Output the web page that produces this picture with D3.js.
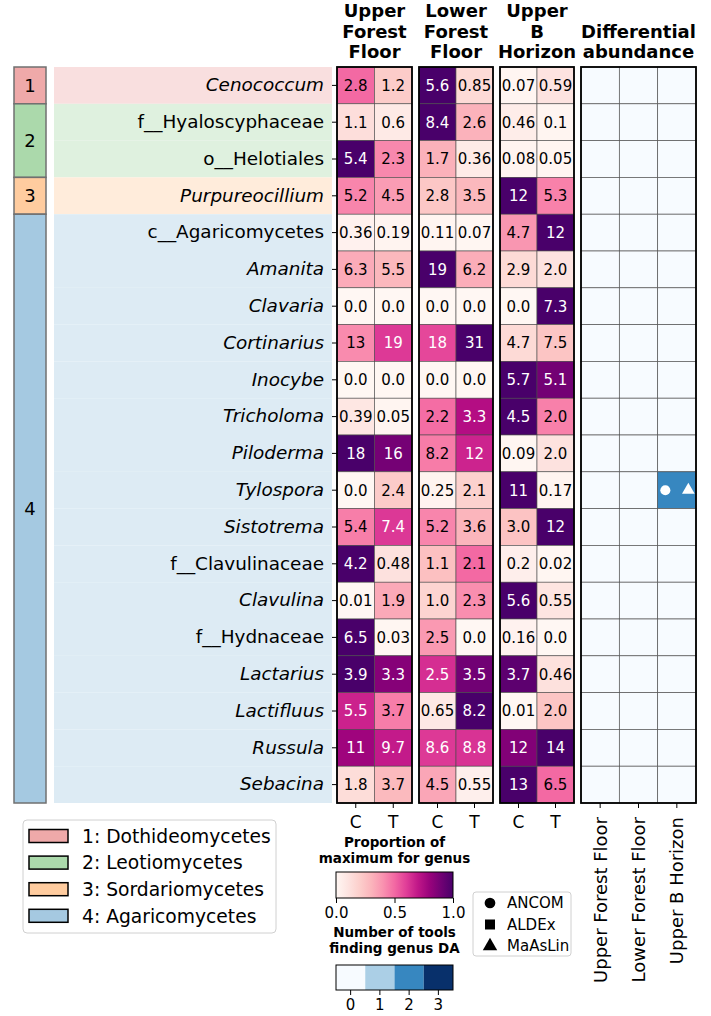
<!DOCTYPE html>
<html>
<head>
<meta charset="utf-8">
<script src="https://cdn.jsdelivr.net/npm/d3@7"></script>
<style>
  body { margin: 0; background: #fff; }
  text { font-family: "DejaVu Sans", sans-serif; }
</style>
</head>
<body>
<svg id="chart"></svg>
<script>
// ---- data ----
const genera = ["Cenococcum", "f__Hyaloscyphaceae", "o__Helotiales", "Purpureocillium",
  "c__Agaricomycetes", "Amanita", "Clavaria", "Cortinarius", "Inocybe", "Tricholoma",
  "Piloderma", "Tylospora", "Sistotrema", "f__Clavulinaceae", "Clavulina", "f__Hydnaceae",
  "Lactarius", "Lactifluus", "Russula", "Sebacina"];
const rowClass = [1, 2, 2, 3, 4, 4, 4, 4, 4, 4, 4, 4, 4, 4, 4, 4, 4, 4, 4, 4];
const classNames = ["Dothideomycetes", "Leotiomycetes", "Sordariomycetes", "Agaricomycetes"];
const treatments = ["C", "T"];
const sites = ["Upper Forest Floor", "Lower Forest Floor", "Upper B Horizon"];
const siteTitles = [["Upper", "Forest", "Floor"], ["Lower", "Forest", "Floor"], ["Upper", "B", "Horizon"]];

const uffC = [2.8, 1.1, 5.4, 5.2, 0.36, 6.3, 0, 13, 0, 0.39, 18, 0, 5.4, 4.2, 0.01, 6.5, 3.9, 5.5, 11, 1.8];
const uffT = [1.2, 0.6, 2.3, 4.5, 0.19, 5.5, 0, 19, 0, 0.05, 16, 2.4, 7.4, 0.48, 1.9, 0.03, 3.3, 3.7, 9.7, 3.7];
const lffC = [5.6, 8.4, 1.7, 2.8, 0.11, 19, 0, 18, 0, 2.2, 8.2, 0.25, 5.2, 1.1, 1.0, 2.5, 2.5, 0.65, 8.6, 4.5];
const lffT = [0.85, 2.6, 0.36, 3.5, 0.07, 6.2, 0, 31, 0, 3.3, 12, 2.1, 3.6, 2.1, 2.3, 0, 3.5, 8.2, 8.8, 0.55];
const ubhC = [0.07, 0.46, 0.08, 12, 4.7, 2.9, 0, 4.7, 5.7, 4.5, 0.09, 11, 3.0, 0.2, 5.6, 0.16, 3.7, 0.01, 12, 13];
const ubhT = [0.59, 0.1, 0.05, 5.3, 12, 2.0, 7.3, 7.5, 5.1, 2.0, 2.0, 0.17, 12, 0.02, 0.55, 0, 0.46, 2.0, 14, 6.5];

// number of tools finding genus DA, per site
const daUFF = [0, 0, 0, 0, 0, 0, 0, 0, 0, 0, 0, 0, 0, 0, 0, 0, 0, 0, 0, 0];
const daLFF = [0, 0, 0, 0, 0, 0, 0, 0, 0, 0, 0, 0, 0, 0, 0, 0, 0, 0, 0, 0];
const daUBH = [0, 0, 0, 0, 0, 0, 0, 0, 0, 0, 0, 2, 0, 0, 0, 0, 0, 0, 0, 0];
const daHits = [{genus: "Tylospora", site: "Upper B Horizon", tools: ["ANCOM", "MaAsLin"]}];
const tools = ["ANCOM", "ALDEx", "MaAsLin"];
const toolLevels = [0, 1, 2, 3];
const cbarTicks = [0, 0.5, 1];

// ---- layout ----
let width = 711, height = 1016;
let yTop = 67, yBottom = 803;
let svg = d3.select("#chart").attr("width", width).attr("height", height);

let y = d3.scaleBand().domain(genera).range([yTop, yBottom]);
let rowMax = genera.map((g, i) => d3.max([uffC[i], uffT[i], lffC[i], lffT[i], ubhC[i], ubhT[i]]));
let color = d3.scaleSequential(d3.interpolateRdPu).domain([0, 1]);
let blues = d3.scaleOrdinal().domain(toolLevels).range(toolLevels.map(d => d3.interpolateBlues(d / 3)));

let classBase = ["#d62728", "#2ca02c", "#ff7f0e", "#1f77b4"];
function tint(c, a) {
  let r = d3.rgb(c);
  return d3.rgb(255 - a * (255 - r.r), 255 - a * (255 - r.g), 255 - a * (255 - r.b)).formatHex();
}
let classStrong = classBase.map(c => tint(c, 0.4));
let classLight = classBase.map(c => tint(c, 0.15));

function fmt(v) {
  if (v === 0) return "0.0";
  if (v >= 10) return String(Math.round(v));
  if (v >= 1) return v.toFixed(1);
  return String(v);
}

// row background bands
svg.selectAll(".band")
  .data(genera)
  .enter()
  .append("rect")
    .attr("x", 54)
    .attr("y", d => y(d))
    .attr("width", 278)
    .attr("height", y.bandwidth())
    .attr("fill", (d, i) => classLight[rowClass[i] - 1]);

// class strip
let groups = [1, 2, 3, 4].map(c => {
  let rows = genera.filter((g, i) => rowClass[i] === c);
  return {c: c, y0: y(rows[0]), y1: y(rows[rows.length - 1]) + y.bandwidth()};
});
svg.selectAll(".strip")
  .data(groups)
  .enter()
  .append("rect")
    .attr("x", 14).attr("width", 32)
    .attr("y", d => d.y0)
    .attr("height", d => d.y1 - d.y0)
    .attr("fill", d => classStrong[d.c - 1])
    .attr("stroke", "#707070")
    .attr("stroke-width", 1.5);
svg.selectAll(".stripLabel")
  .data(groups)
  .enter()
  .append("text")
    .attr("x", 30)
    .attr("y", d => (d.y0 + d.y1) / 2)
    .attr("dy", "0.36em")
    .attr("text-anchor", "middle")
    .attr("font-size", 18)
    .text(d => d.c);

// genus axis
let yAxis = svg.append("g")
  .attr("transform", "translate(337,0)")
  .call(d3.axisLeft(y).tickSize(5).tickPadding(8));
yAxis.select(".domain").remove();
yAxis.selectAll("text")
  .style("font-size", "18.4px")
  .style("font-family", "DejaVu Sans")
  .style("font-style", d => d.indexOf("__") >= 0 ? "normal" : "italic")
  .attr("fill", "#000");

// heatmap panels
let panels = [
  {x0: 337, x1: 412, C: uffC, T: uffT},
  {x0: 419, x1: 493, C: lffC, T: lffT},
  {x0: 500, x1: 574, C: ubhC, T: ubhT}
];

panels.forEach((p, k) => {
  let x = d3.scaleBand().domain(treatments).range([p.x0, p.x1]);
  let cells = [];
  genera.forEach((g, i) => {
    treatments.forEach(t => {
      let v = p[t][i];
      cells.push({g: g, t: t, v: v, f: rowMax[i] > 0 ? v / rowMax[i] : 0});
    });
  });
  let g = svg.append("g");
  g.selectAll("rect")
    .data(cells)
    .enter()
    .append("rect")
      .attr("x", d => x(d.t))
      .attr("y", d => y(d.g))
      .attr("width", x.bandwidth())
      .attr("height", y.bandwidth())
      .attr("fill", d => color(d.f))
      .attr("stroke", "#4a4a4a")
      .attr("stroke-width", 0.6);
  g.selectAll("text")
    .data(cells)
    .enter()
    .append("text")
      .attr("x", d => x(d.t) + x.bandwidth() / 2)
      .attr("y", d => y(d.g) + y.bandwidth() / 2)
      .attr("dy", "0.36em")
      .attr("text-anchor", "middle")
      .attr("font-size", 15)
      .attr("fill", d => d.f > 0.55 ? "#fff" : "#000")
      .text(d => fmt(d.v));
  g.append("rect")
    .attr("x", p.x0).attr("y", yTop)
    .attr("width", p.x1 - p.x0).attr("height", yBottom - yTop)
    .attr("fill", "none").attr("stroke", "#000").attr("stroke-width", 1.8);

  let ax = svg.append("g")
    .attr("transform", "translate(0," + yBottom + ")")
    .call(d3.axisBottom(x).tickSize(5).tickPadding(8));
  ax.select(".domain").remove();
  ax.selectAll("text").style("font-size", "17px").style("font-family", "DejaVu Sans");

  // title
  let title = svg.append("text")
    .attr("text-anchor", "middle")
    .attr("font-size", 18)
    .attr("font-weight", "bold");
  siteTitles[k].forEach((line, j) => {
    title.append("tspan")
      .attr("x", (p.x0 + p.x1) / 2)
      .attr("y", 17 + j * 20.5)
      .text(line);
  });
});

// differential abundance panel
let daX = d3.scaleBand().domain(sites).range([581, 696]);
let daCounts = {"Upper Forest Floor": daUFF, "Lower Forest Floor": daLFF, "Upper B Horizon": daUBH};
let daCells = [];
genera.forEach((g, i) => sites.forEach(s => daCells.push({g: g, s: s, n: daCounts[s][i]})));

svg.append("g").selectAll("rect")
  .data(daCells)
  .enter()
  .append("rect")
    .attr("x", d => daX(d.s))
    .attr("y", d => y(d.g))
    .attr("width", daX.bandwidth())
    .attr("height", y.bandwidth())
    .attr("fill", d => blues(d.n))
    .attr("stroke", "#555")
    .attr("stroke-width", 0.7);
svg.append("rect")
  .attr("x", 581).attr("y", yTop)
  .attr("width", 115).attr("height", yBottom - yTop)
  .attr("fill", "none").attr("stroke", "#000").attr("stroke-width", 1.8);

let symbolOf = {ANCOM: d3.symbolCircle, ALDEx: d3.symbolSquare, MaAsLin: d3.symbolTriangle};
let markerPos = {ANCOM: 0.2, ALDEx: 0.5, MaAsLin: 0.8};
let markers = [];
daHits.forEach(h => h.tools.forEach(t => markers.push({g: h.genus, s: h.site, t: t})));
svg.selectAll(".mark")
  .data(markers)
  .enter()
  .append("path")
    .attr("d", d => d3.symbol().type(symbolOf[d.t]).size(d.t === "MaAsLin" ? 70 : 80)())
    .attr("transform", d => "translate(" + (daX(d.s) + daX.bandwidth() * markerPos[d.t]) + "," + (y(d.g) + y.bandwidth() / 2) + ")")
    .attr("fill", "#fff");

let daAxis = svg.append("g")
  .attr("transform", "translate(0," + yBottom + ")")
  .call(d3.axisBottom(daX).tickSize(5));
daAxis.select(".domain").remove();
daAxis.selectAll("text")
  .style("font-size", "18px").style("font-family", "DejaVu Sans")
  .attr("transform", "rotate(-90)")
  .attr("text-anchor", "end")
  .attr("x", -14).attr("y", 0).attr("dy", "0.36em");

let daTitle = svg.append("text")
  .attr("text-anchor", "middle").attr("font-size", 18).attr("font-weight", "bold");
["Differential", "abundance"].forEach((line, j) => {
  daTitle.append("tspan").attr("x", 638.5).attr("y", 37.5 + j * 20.5).text(line);
});

// class legend
let lg = svg.append("g");
lg.append("rect")
  .attr("x", 23).attr("y", 820).attr("width", 253).attr("height", 113).attr("rx", 4)
  .attr("fill", "#fff").attr("stroke", "#d0d0d0");
classNames.forEach((name, i) => {
  let cy = 836 + i * 26.6;
  lg.append("rect")
    .attr("x", 29).attr("y", cy - 6.5).attr("width", 39).attr("height", 13)
    .attr("fill", classStrong[i]).attr("stroke", "#000").attr("stroke-width", 1.5);
  lg.append("text")
    .attr("x", 82).attr("y", cy).attr("dy", "0.36em")
    .attr("font-size", 18.7)
    .text((i + 1) + ": " + name);
});

// colorbar: proportion of maximum
let cbX = d3.scaleLinear().domain([0, 1]).range([336, 453]);
let grad = svg.append("defs").append("linearGradient").attr("id", "rdpu");
d3.range(0, 1.01, 0.1).forEach(t => {
  grad.append("stop").attr("offset", t).attr("stop-color", d3.interpolateRdPu(t));
});
let cb1Title = svg.append("text").attr("text-anchor", "middle").attr("font-size", 13.5).attr("font-weight", "bold");
["Proportion of", "maximum for genus"].forEach((line, j) => {
  cb1Title.append("tspan").attr("x", 394.5).attr("y", 847 + j * 16.2).text(line);
});
svg.append("rect")
  .attr("x", 336).attr("y", 872).attr("width", 117).attr("height", 26)
  .attr("fill", "url(#rdpu)").attr("stroke", "#000").attr("stroke-width", 1);
let cb1Axis = svg.append("g")
  .attr("transform", "translate(0,898)")
  .call(d3.axisBottom(cbX).tickValues(cbarTicks).tickFormat(d3.format(".1f")).tickSize(5).tickPadding(4));
cb1Axis.select(".domain").remove();
cb1Axis.selectAll("text").style("font-size", "15px").style("font-family", "DejaVu Sans");

// colorbar: number of tools
let cb2Title = svg.append("text").attr("text-anchor", "middle").attr("font-size", 13.5).attr("font-weight", "bold");
["Number of tools", "finding genus DA"].forEach((line, j) => {
  cb2Title.append("tspan").attr("x", 394.5).attr("y", 937 + j * 16.2).text(line);
});
let cb2X = d3.scaleBand().domain(toolLevels).range([336, 453]);
svg.append("g").selectAll("rect")
  .data(toolLevels)
  .enter()
  .append("rect")
    .attr("x", d => cb2X(d)).attr("y", 965)
    .attr("width", cb2X.bandwidth()).attr("height", 25)
    .attr("fill", d => blues(d));
svg.append("rect")
  .attr("x", 336).attr("y", 965).attr("width", 117).attr("height", 25)
  .attr("fill", "none").attr("stroke", "#000").attr("stroke-width", 1);
let cb2Axis = svg.append("g")
  .attr("transform", "translate(0,990)")
  .call(d3.axisBottom(cb2X).tickSize(5).tickPadding(4));
cb2Axis.select(".domain").remove();
cb2Axis.selectAll("text").style("font-size", "15px").style("font-family", "DejaVu Sans");

// marker legend
let ml = svg.append("g");
ml.append("rect")
  .attr("x", 473).attr("y", 892).attr("width", 98).attr("height", 64).attr("rx", 3)
  .attr("fill", "#fff").attr("stroke", "#d0d0d0");
tools.forEach((t, i) => {
  let cy = 903 + i * 21.5;
  ml.append("path")
    .attr("d", d3.symbol().type(symbolOf[t]).size(t === "ALDEx" ? 100 : 90)())
    .attr("transform", "translate(490," + cy + ")")
    .attr("fill", "#000");
  ml.append("text")
    .attr("x", 507).attr("y", cy).attr("dy", "0.36em")
    .attr("font-size", 15)
    .text(t);
});
</script>
</body>
</html>
